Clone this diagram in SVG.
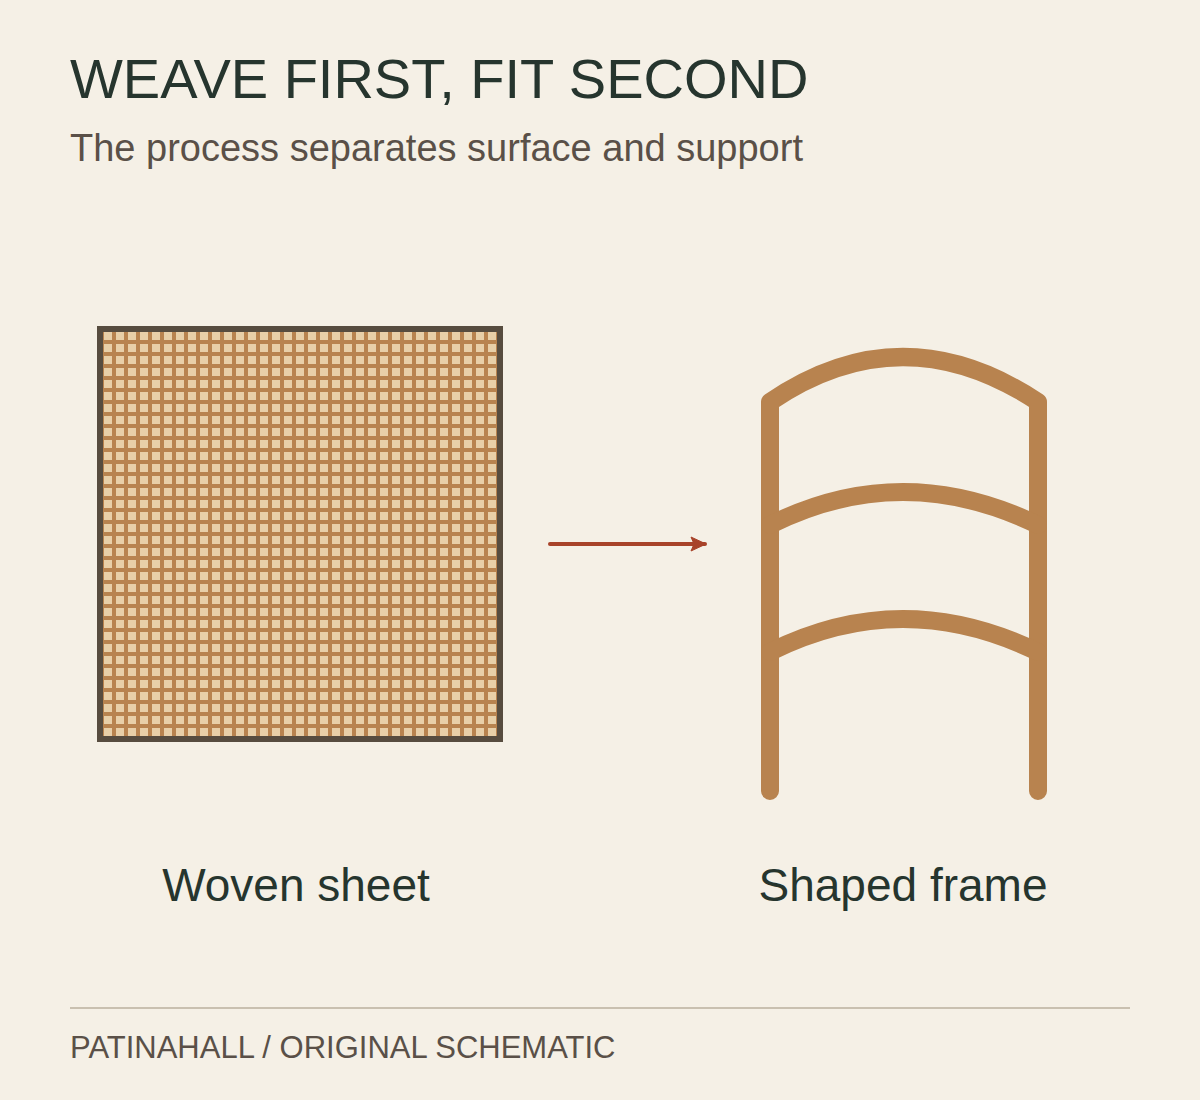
<svg xmlns="http://www.w3.org/2000/svg" width="1200" height="1100" viewBox="0 0 1200 1100">
  <defs>
    <style>
      .title { font-family: "Liberation Sans", Arial, sans-serif; font-size: 56px; fill: #26352e; }
      .subtitle { font-family: "Liberation Sans", Arial, sans-serif; font-size: 38px; fill: #5a5048; }
      .label { font-family: "Liberation Sans", Arial, sans-serif; font-size: 46px; fill: #26352e; text-anchor: middle; }
      .footer { font-family: "Liberation Sans", Arial, sans-serif; font-size: 31px; fill: #5a5048; }
      .frame { fill: none; stroke: #b8834f; stroke-width: 18; stroke-linecap: round; stroke-linejoin: round; }
      .conn { fill: none; stroke: #a8432a; stroke-width: 4; stroke-linecap: round; }
    </style>
    <pattern id="weave" patternUnits="userSpaceOnUse" x="100" y="328" width="12" height="12">
      <rect x="0" y="0" width="12" height="12" fill="#b8834f"/>
      <rect x="4" y="4" width="8" height="8" fill="#e8cfa8"/>
    </pattern>
    <marker id="arrow" markerUnits="userSpaceOnUse" markerWidth="18" markerHeight="16" refX="15" refY="8" orient="auto">
      <path d="M1,1 L16,8 L1,15 L4,8 Z" fill="#a8432a" stroke="#a8432a" stroke-width="1" stroke-linejoin="round"/>
    </marker>
  </defs>
  <rect x="0" y="0" width="1200" height="1100" fill="#f5f0e6"/>

  <text class="title" x="70" y="98">WEAVE FIRST, FIT SECOND</text>
  <text class="subtitle" x="70" y="161">The process separates surface and support</text>

  <g id="woven-sheet">
    <rect x="100" y="329" width="400" height="410" fill="url(#weave)" stroke="#574c3f" stroke-width="6"/>
    <text class="label" x="296" y="901">Woven sheet</text>
  </g>

  <g id="shaped-frame">
    <path class="frame" d="M770,791 V402 Q902,312 1038,402 V791"/>
    <path class="frame" d="M770,525 Q902,459 1038,525"/>
    <path class="frame" d="M770,652 Q902,586 1038,652"/>
    <text class="label" x="903" y="901">Shaped frame</text>
  </g>

  <g id="connectors">
    <line class="conn" x1="550" y1="544" x2="705" y2="544" marker-end="url(#arrow)"/>
  </g>

  <line x1="70" y1="1008" x2="1130" y2="1008" stroke="#c9c0b0" stroke-width="2"/>
  <text class="footer" x="70" y="1058">PATINAHALL / ORIGINAL SCHEMATIC</text>
</svg>
